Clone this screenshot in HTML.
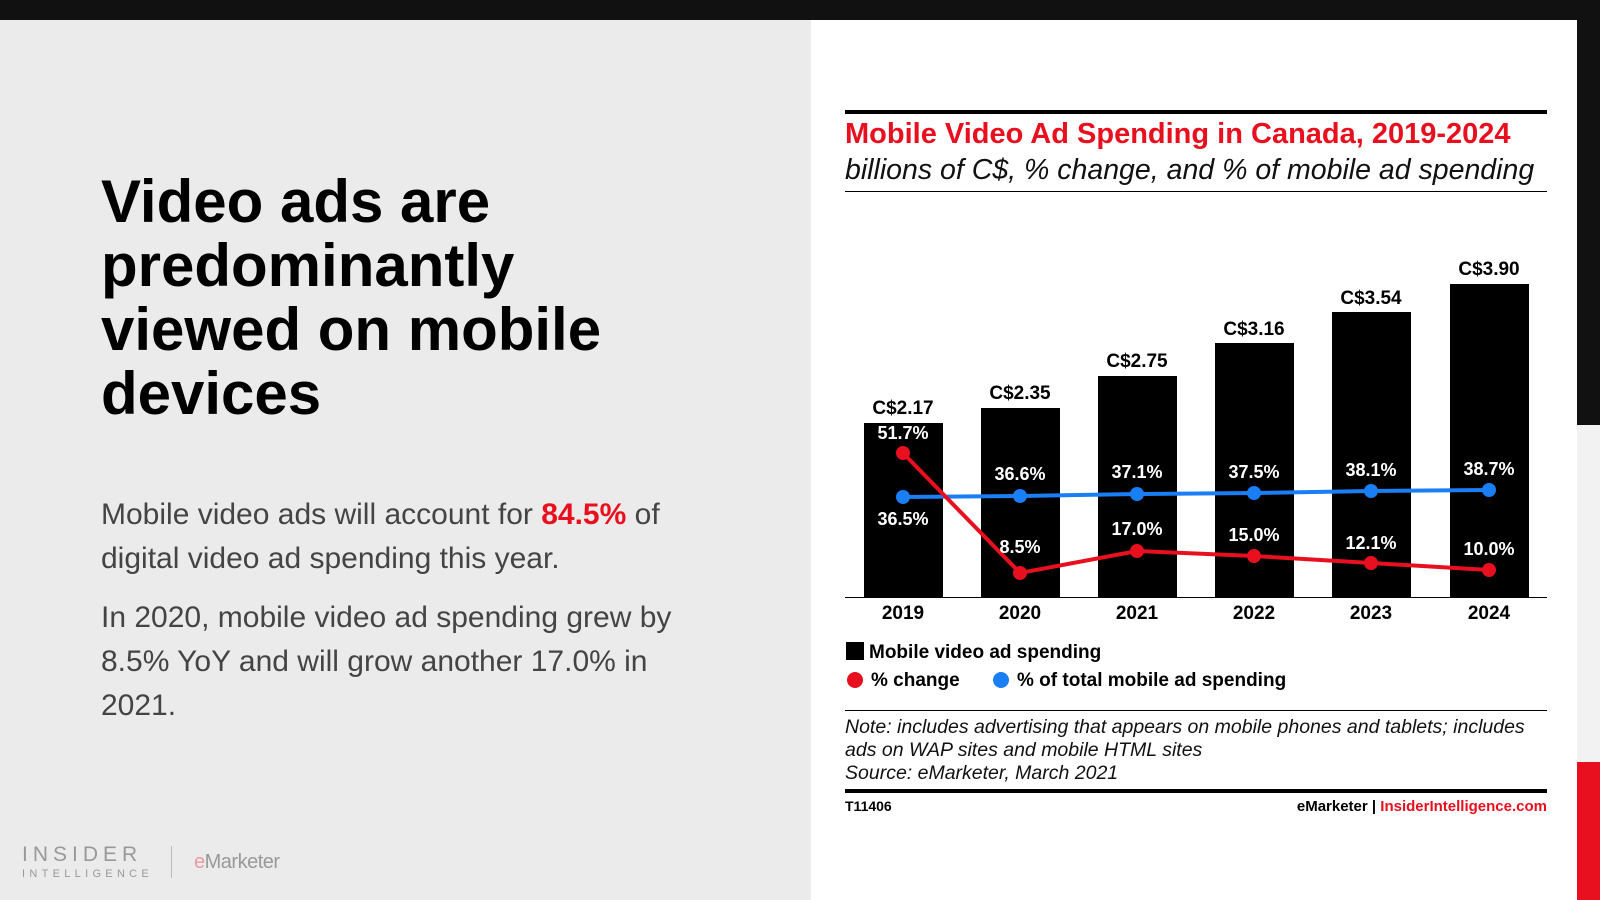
<!DOCTYPE html>
<html><head><meta charset="utf-8"><style>
*{margin:0;padding:0;box-sizing:border-box}
body{width:1600px;height:900px;position:relative;overflow:hidden;background:#111;font-family:"Liberation Sans",Arial,sans-serif}
.a{position:absolute;white-space:nowrap}
</style></head><body>
<div class="a" style="left:0;top:20px;width:811px;height:880px;background:#ebebeb"></div>
<div class="a" style="left:811px;top:20px;width:766px;height:880px;background:#fff"></div>
<div class="a" style="left:1577px;top:425px;width:23px;height:337px;background:#f2f2f2"></div>
<div class="a" style="left:1577px;top:762px;width:23px;height:138px;background:#e8101e"></div>

<div class="a" style="left:101px;top:170px;font-weight:bold;font-size:60px;line-height:64px;color:#000">Video ads are<br>predominantly<br>viewed on mobile<br>devices</div>
<div class="a" style="left:101px;top:493px;font-size:30px;line-height:44px;color:#444">Mobile video ads will account for <b style="color:#e8101e">84.5%</b> of<br>digital video ad spending this year.</div>
<div class="a" style="left:101px;top:596px;font-size:30px;line-height:44px;color:#444">In 2020, mobile video ad spending grew by<br>8.5% YoY and will grow another 17.0% in<br>2021.</div>

<div class="a" style="left:22px;top:843px;font-size:21px;letter-spacing:5px;color:#999">INSIDER</div>
<div class="a" style="left:22px;top:868px;font-size:11px;letter-spacing:4.3px;color:#999">INTELLIGENCE</div>
<div class="a" style="left:171px;top:846px;width:1px;height:32px;background:#bbb"></div>
<div class="a" style="left:194px;top:851px;font-size:20px;color:#999;letter-spacing:-0.5px"><span style="color:#eb9aa0">e</span>Marketer</div>

<div class="a" style="left:845px;top:110px;width:702px;height:4px;background:#000"></div>
<div class="a" style="left:845px;top:118px;font-weight:bold;font-size:29px;color:#e8101e">Mobile Video Ad Spending in Canada, 2019-2024</div>
<div class="a" style="left:845px;top:154px;font-style:italic;font-size:28.5px;color:#111">billions of C$, % change, and % of mobile ad spending</div>
<div class="a" style="left:845px;top:191px;width:702px;height:1px;background:#000"></div>

<svg class="a" style="left:0;top:0" width="1600" height="900" font-family="Liberation Sans, Arial, sans-serif" font-weight="bold">
<g fill="#000">
<rect x="864" y="423" width="79" height="174"/><rect x="981" y="408" width="79" height="189"/>
<rect x="1098" y="376" width="79" height="221"/><rect x="1215" y="343" width="79" height="254"/>
<rect x="1332" y="312" width="79" height="285"/><rect x="1450" y="284" width="79" height="313"/>
</g>
<rect x="845" y="597" width="702" height="1" fill="#000"/>
<g font-size="19" text-anchor="middle" fill="#000">
<text x="903" y="414">C$2.17</text><text x="1020" y="399">C$2.35</text><text x="1137" y="367">C$2.75</text>
<text x="1254" y="335">C$3.16</text><text x="1371" y="304">C$3.54</text><text x="1489" y="275">C$3.90</text>
<text x="903" y="619">2019</text><text x="1020" y="619">2020</text><text x="1137" y="619">2021</text>
<text x="1254" y="619">2022</text><text x="1371" y="619">2023</text><text x="1489" y="619">2024</text>
</g>
<polyline points="903,497 1020,496 1137,494 1254,493 1371,491 1489,490" fill="none" stroke="#1a7ef5" stroke-width="4"/>
<polyline points="903,453 1020,573 1137,551 1254,556 1371,563 1489,570" fill="none" stroke="#e8101e" stroke-width="4"/>
<g fill="#1a7ef5"><circle cx="903" cy="497" r="7"/><circle cx="1020" cy="496" r="7"/><circle cx="1137" cy="494" r="7"/><circle cx="1254" cy="493" r="7"/><circle cx="1371" cy="491" r="7"/><circle cx="1489" cy="490" r="7"/></g>
<g fill="#e8101e"><circle cx="903" cy="453" r="7"/><circle cx="1020" cy="573" r="7"/><circle cx="1137" cy="551" r="7"/><circle cx="1254" cy="556" r="7"/><circle cx="1371" cy="563" r="7"/><circle cx="1489" cy="570" r="7"/></g>
<g font-size="18" text-anchor="middle" fill="#fff">
<text x="903" y="439">51.7%</text><text x="1020" y="553">8.5%</text><text x="1137" y="535">17.0%</text>
<text x="1254" y="541">15.0%</text><text x="1371" y="549">12.1%</text><text x="1489" y="555">10.0%</text>
<text x="903" y="525">36.5%</text><text x="1020" y="480">36.6%</text><text x="1137" y="478">37.1%</text>
<text x="1254" y="478">37.5%</text><text x="1371" y="476">38.1%</text><text x="1489" y="475">38.7%</text>
</g>
<rect x="846" y="642" width="18" height="18" fill="#000"/>
<text x="869" y="658" font-size="19">Mobile video ad spending</text>
<circle cx="855" cy="680" r="8" fill="#e8101e"/>
<text x="871" y="686" font-size="19">% change</text>
<circle cx="1001" cy="680" r="8" fill="#1a7ef5"/>
<text x="1017" y="686" font-size="19">% of total mobile ad spending</text>
</svg>

<div class="a" style="left:845px;top:710px;width:702px;height:1px;background:#000"></div>
<div class="a" style="left:845px;top:716px;font-style:italic;font-size:19.5px;line-height:23px;color:#111">Note: includes advertising that appears on mobile phones and tablets; includes<br>ads on WAP sites and mobile HTML sites<br>Source: eMarketer, March 2021</div>
<div class="a" style="left:845px;top:789px;width:702px;height:4px;background:#000"></div>
<div class="a" style="left:845px;top:798px;font-weight:bold;font-size:14px;color:#000">T11406</div>
<div class="a" style="right:53px;top:798px;font-weight:bold;font-size:15px;color:#000">eMarketer | <span style="color:#e8101e">InsiderIntelligence.com</span></div>
</body></html>
